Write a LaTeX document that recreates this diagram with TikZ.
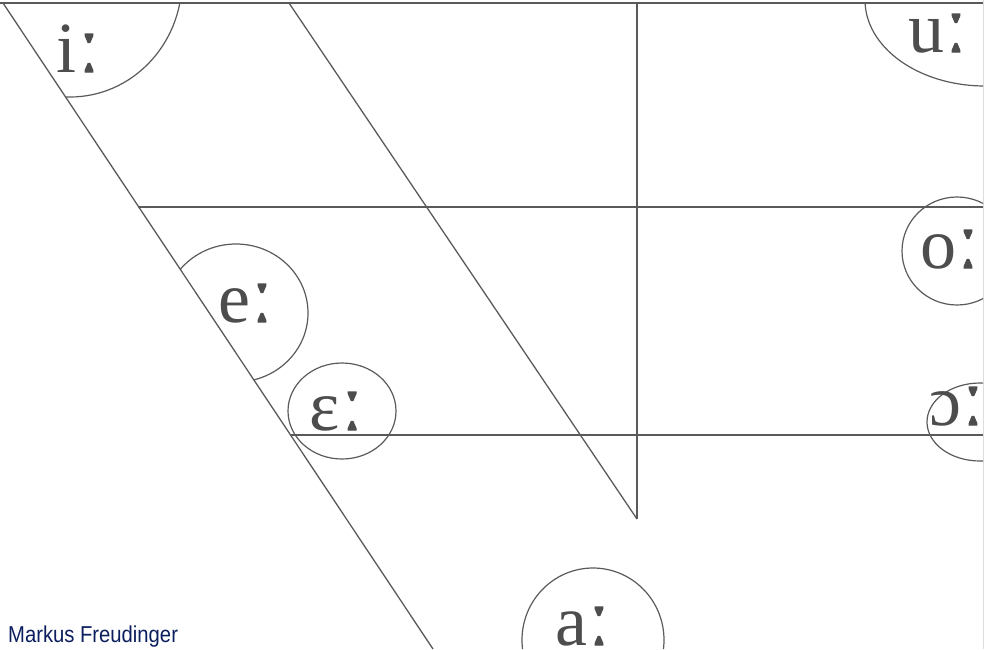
\documentclass[tikz,border=0pt]{standalone}
\usepackage{fontspec}
\usepackage{graphicx}
\setmainfont{Liberation Serif}
\newfontfamily\lenfont[FakeBold=1.5]{Liberation Serif}
\newfontfamily\credfont{Liberation Sans}
\newcommand{\lng}{\kern2pt{\lenfont\scalebox{1}[1.15]{ː}}}
\definecolor{ln}{HTML}{5A5A5A}
\definecolor{tx}{HTML}{4D4D4D}
\definecolor{cred}{HTML}{0B1F5E}
\definecolor{edge}{HTML}{DDDDDD}
\begin{document}
\begin{tikzpicture}[x=1pt,y=-1pt,
  grid/.style={draw=ln, line width=1.3pt},
  zone/.style={draw=ln, line width=1.2pt},
  ipa/.style={text=tx, anchor=base, inner sep=0pt, font=\fontsize{72}{72}\selectfont},
  credit/.style={text=cred, anchor=base west, inner sep=0pt, font=\credfont\fontsize{23}{23}\selectfont, xscale=0.88}]
\useasboundingbox (0,0) rectangle (985,649);
% frame points
\coordinate (TL) at (0,3);
\coordinate (TR) at (983,3);
\coordinate (D1a) at (3,3);
\coordinate (D1b) at (433,649);
\coordinate (D2a) at (289,3);
\coordinate (D2b) at (637,519);
\coordinate (Va) at (637,3);
\coordinate (H1a) at (138,207);
\coordinate (H1b) at (983,207);
\coordinate (H2a) at (290,435);
\coordinate (H2b) at (983,435);
\coordinate (Ea) at (983.5,0);
\coordinate (Eb) at (983.5,649);
% right edge
\draw[edge, line width=1pt] (Ea) -- (Eb);
% grid lines
\draw[grid] (TL) -- (TR);
\draw[grid] (D1a) -- (D1b);
\draw[grid] (D2a) -- (D2b);
\draw[grid] (Va) -- (D2b);
\draw[grid] (H1a) -- (H1b);
\draw[grid] (H2a) -- (H2b);
% vowel zones
\begin{scope}
  \clip (D1a) -- (D1b) -- (983,649) -- (TR) -- cycle;
  \draw[zone] (70,-20) ellipse [x radius=112pt, y radius=117pt];
  \draw[zone] (236,313) ellipse [x radius=72pt, y radius=69pt];
  \draw[zone] (342,411) ellipse [x radius=54pt, y radius=48pt];
  \draw[zone] (985,0) ellipse [x radius=120pt, y radius=86pt];
  \draw[zone] (957,251) ellipse [x radius=55pt, y radius=54pt];
  \draw[zone] (980,422) ellipse [x radius=53pt, y radius=39pt];
  \draw[zone] (593,640) ellipse [x radius=71pt, y radius=72pt];
\end{scope}
% labels
\node[ipa] (vi) at (78,72) {i\lng};
\node[ipa] (vu) at (937,52) {u\lng};
\node[ipa] (ve) at (245,322) {e\lng};
\node[ipa] (veps) at (336,430) {ɛ\lng};
\node[ipa] (vo) at (949,268) {o\lng};
\node[ipa] (vopen) at (956,425) {ɔ\lng};
\node[ipa] (va) at (582,645) {a\lng};
\node[credit] (author) at (8,642) {Markus Freudinger};
\end{tikzpicture}
\end{document}
